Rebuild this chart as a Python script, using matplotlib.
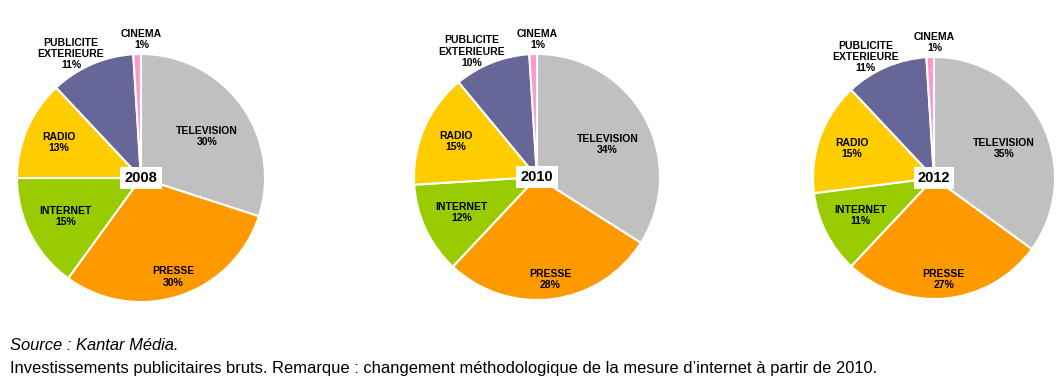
import numpy as np
import matplotlib.pyplot as plt

plt.rcParams['font.family'] = ['Liberation Sans', 'DejaVu Sans']

categories = ["TELEVISION", "PRESSE", "INTERNET", "RADIO", "PUBLICITE\nEXTERIEURE", "CINEMA"]
colors = ["#C0C0C0", "#FF9900", "#99CC00", "#FFCC00", "#666699", "#FF99CC"]
years = ["2008", "2010", "2012"]
shares = {
    "2008": [30, 30, 15, 13, 11, 1],
    "2010": [34, 28, 12, 15, 10, 1],
    "2012": [35, 27, 11, 15, 11, 1],
}
# label placement: distance from centre (fraction of radius) and angle tweak (deg)
label_dist = [0.63, 0.84, 0.68, 0.72, 1.15, 1.12]
label_rot = [-4, 0, 0, 0, 6, -2]

W, H = 1063, 383
fig = plt.figure(figsize=(W / 100, H / 100), dpi=100)

# pie centres / radii in pixels
pies = {"2008": (141, 178, 124), "2010": (537, 177, 123), "2012": (934, 178, 121)}
LIM = 1.45

for year in years:
    cx, cy, r = pies[year]
    half = r * LIM
    ax = fig.add_axes([(cx - half) / W, (H - cy - half) / H, 2 * half / W, 2 * half / H])
    vals = shares[year]
    wedges, _ = ax.pie(vals, colors=colors, startangle=90, counterclock=False, radius=1,
                       wedgeprops=dict(edgecolor="white", linewidth=1.5))
    ax.set_xlim(-LIM, LIM)
    ax.set_ylim(-LIM, LIM)
    ax.set_aspect("equal")
    ax.axis("off")
    for w, name, v, d, rot in zip(wedges, categories, vals, label_dist, label_rot):
        ang = np.deg2rad((w.theta1 + w.theta2) / 2 + rot)
        x, y = d * np.cos(ang), d * np.sin(ang)
        ax.text(x, y, f"{name}\n{v}%", ha="center", va="center", fontsize=7.5,
                fontweight="bold", linespacing=1.15)
    ax.text(0, 0, year, ha="center", va="center", fontsize=10.5, fontweight="bold",
            bbox=dict(facecolor="white", edgecolor="none", pad=3))

fig.text(10 / W, 1 - 346 / H, "Source : Kantar Média.", fontsize=11.9, style="italic",
         va="center")
fig.text(10 / W, 1 - 368 / H,
         "Investissements publicitaires bruts. Remarque : changement méthodologique de la mesure d’internet à partir de 2010.",
         fontsize=11.9, va="center")

fig.savefig("out.png", dpi=100)
